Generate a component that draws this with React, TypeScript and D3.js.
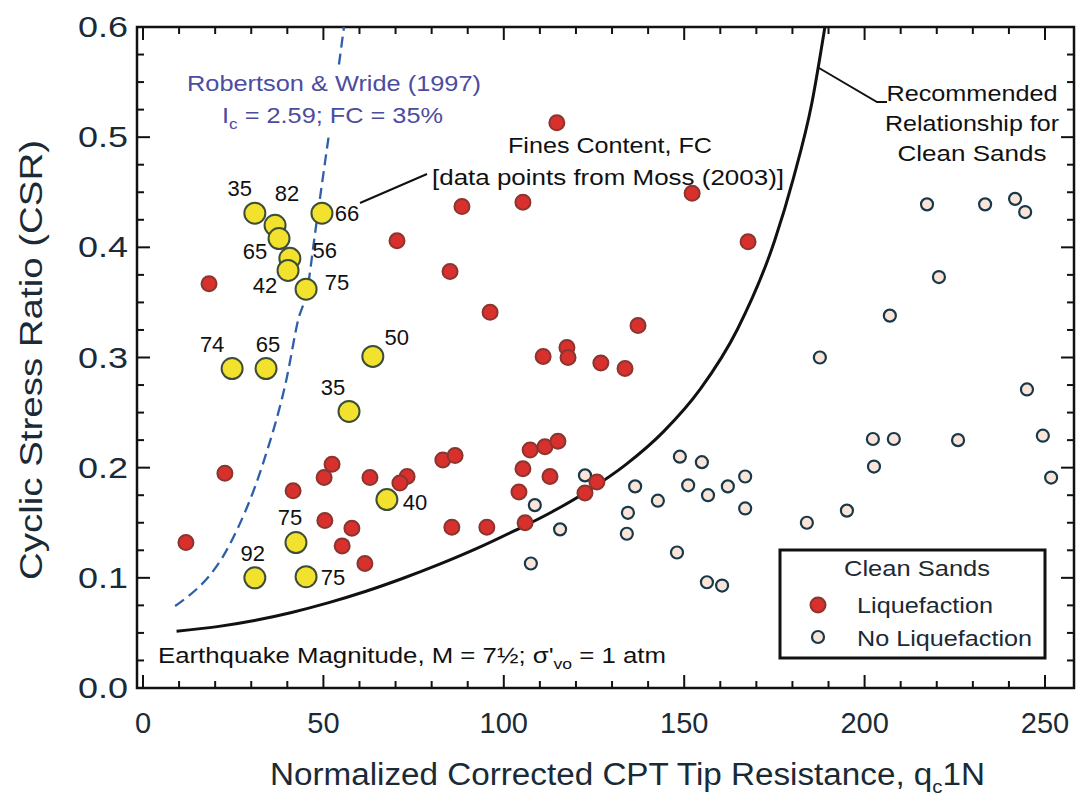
import React, { useEffect, useRef } from 'react';
import * as d3 from 'd3';

// Clean sand case histories, liquefaction: [qc1N, CSR]
const liqQ = [11.9, 18.3, 22.7, 41.6, 52.4, 50.2, 62.9, 73.2, 71.2, 50.4, 57.9, 55.2, 61.5, 70.4, 88.4, 105.3, 85.1, 96.2, 114.7, 152.2, 167.7, 137.2, 110.9, 117.5, 117.8, 126.9, 133.6, 83.1, 86.5, 85.6, 95.3, 105.9, 107.3, 111.4, 115.0, 105.3, 112.8, 104.2, 122.5, 125.8];
const liqCSR = [0.132, 0.367, 0.195, 0.179, 0.203, 0.191, 0.191, 0.192, 0.186, 0.152, 0.145, 0.129, 0.113, 0.406, 0.437, 0.441, 0.378, 0.341, 0.513, 0.449, 0.405, 0.329, 0.301, 0.309, 0.300, 0.295, 0.290, 0.207, 0.211, 0.146, 0.146, 0.150, 0.216, 0.219, 0.224, 0.199, 0.192, 0.178, 0.177, 0.187];

// Clean sand case histories, no liquefaction
const noLiqQ = [108.6, 122.5, 115.6, 107.5, 136.4, 142.7, 134.4, 134.1, 148.0, 148.8, 154.9, 151.1, 156.6, 162.1, 166.9, 166.9, 156.3, 160.5, 184.0, 195.1, 202.3, 208.1, 202.6, 225.9, 249.4, 251.7, 245.0, 187.6, 207.0, 220.6, 217.3, 233.4, 241.7, 244.5];
const noLiqCSR = [0.166, 0.193, 0.144, 0.113, 0.183, 0.170, 0.159, 0.140, 0.123, 0.210, 0.205, 0.184, 0.175, 0.183, 0.192, 0.163, 0.096, 0.093, 0.150, 0.161, 0.226, 0.226, 0.201, 0.225, 0.229, 0.191, 0.271, 0.300, 0.338, 0.373, 0.439, 0.439, 0.444, 0.432];

// Silty sand cases with fines content (%)
const fcQ = [31.0, 36.6, 37.7, 40.7, 40.2, 45.2, 49.6, 24.7, 34.1, 63.7, 57.1, 67.6, 42.4, 31.0, 45.2];
const fcCSR = [0.431, 0.420, 0.408, 0.390, 0.379, 0.362, 0.431, 0.290, 0.290, 0.301, 0.251, 0.171, 0.132, 0.100, 0.101];
const fcValue = [35, 82, 65, 56, 42, 75, 66, 74, 65, 50, 35, 40, 75, 92, 75];
// label placement (pixels, relative to marker)
const fcLabelDx = [-15, 12, -24, 35, -23, 31, 25, -20, 2, 24, -16, 28, -6, -2, 27];
const fcLabelDy = [-25, -32, 12, -8, 15, -7, 0, -25, -25, -19, -24, 2, -26, -25, 0];

// Recommended relationship for clean sands
const crrQ = [9.3, 20.6, 30.9, 41.2, 51.5, 61.8, 72.1, 82.4, 92.7, 103, 113.3, 123.6, 133.9, 144.2, 154.5, 164.8, 175.1, 180.3, 185.4, 189];
const crrCSR = [0.0515, 0.0557, 0.0613, 0.0686, 0.0775, 0.0878, 0.0996, 0.1126, 0.1269, 0.1428, 0.1598, 0.1796, 0.203, 0.2325, 0.2715, 0.3259, 0.4064, 0.4631, 0.5312, 0.6];

// Robertson & Wride (1997), Ic = 2.59
const rwQ = [8.9, 24.1, 33.3, 39.9, 43.0, 45.5, 47.7, 51.3, 54.6, 55.7];
const rwCSR = [0.0744, 0.1307, 0.2042, 0.2823, 0.334, 0.361, 0.413, 0.497, 0.573, 0.600];

const xTicks = [0, 50, 100, 150, 200, 250];
const yTicks = [0, 0.1, 0.2, 0.3, 0.4, 0.5, 0.6];

const W = 1087;
const H = 799;
const FONT = '"Liberation Sans", Arial, Helvetica, sans-serif';
const INK = '#1a2a36';

const App: React.FC = () => {
  const svgRef = useRef<SVGSVGElement>(null);

  useEffect(() => {
    if (!svgRef.current) return;
    const svg = d3.select(svgRef.current);
    svg.selectAll('*').remove();

    const frame = { left: 137, right: 1074, top: 27, bottom: 688 };
    const x = d3.scaleLinear().domain([0, 250]).range([143, 1045]);
    const y = d3.scaleLinear().domain([0, 0.6]).range([688, 27]);

    svg.append('rect').attr('width', W).attr('height', H).attr('fill', '#fff');

    const g = svg.append('g').attr('font-family', FONT);

    // ticks (inside the frame, all four sides)
    const ticks = g.append('g').attr('stroke', '#111').attr('stroke-width', 2);
    d3.range(0, 251, 10).forEach(v => {
      const len = v % 50 === 0 ? 13 : 7;
      ticks.append('line').attr('x1', x(v)).attr('x2', x(v)).attr('y1', frame.bottom).attr('y2', frame.bottom - len);
      ticks.append('line').attr('x1', x(v)).attr('x2', x(v)).attr('y1', frame.top).attr('y2', frame.top + len);
    });
    d3.range(0, 25).forEach(i => {
      const v = i * 0.025;
      const len = i % 4 === 0 ? 13 : 7;
      ticks.append('line').attr('x1', frame.left).attr('x2', frame.left + len).attr('y1', y(v)).attr('y2', y(v));
      ticks.append('line').attr('x1', frame.right).attr('x2', frame.right - len).attr('y1', y(v)).attr('y2', y(v));
    });

    g.append('rect')
      .attr('x', frame.left).attr('y', frame.top)
      .attr('width', frame.right - frame.left).attr('height', frame.bottom - frame.top)
      .attr('fill', 'none').attr('stroke', '#111').attr('stroke-width', 2.5);

    // tick labels
    g.append('g').selectAll('text').data(yTicks).join('text')
      .attr('x', 128).attr('y', d => y(d) + 10)
      .attr('text-anchor', 'end').attr('font-size', 29).attr('fill', INK)
      .attr('textLength', 50).attr('lengthAdjust', 'spacingAndGlyphs')
      .text(d => d.toFixed(1));
    g.append('g').selectAll('text').data(xTicks).join('text')
      .attr('x', d => x(d)).attr('y', 733)
      .attr('text-anchor', 'middle').attr('font-size', 29).attr('fill', INK)
      .text(d => String(d));

    // axis titles
    const xt = g.append('text').attr('x', 270).attr('y', 785)
      .attr('font-size', 31).attr('fill', INK)
      .attr('textLength', 715).attr('lengthAdjust', 'spacingAndGlyphs');
    xt.append('tspan').text('Normalized Corrected CPT Tip Resistance, q');
    xt.append('tspan').attr('dy', 8).attr('font-size', 19).text('c');
    xt.append('tspan').attr('dy', -8).text('1N');

    g.append('text')
      .attr('transform', 'translate(42,360) rotate(-90)')
      .attr('text-anchor', 'middle').attr('font-size', 32).attr('fill', INK)
      .attr('textLength', 440).attr('lengthAdjust', 'spacingAndGlyphs')
      .text('Cyclic Stress Ratio (CSR)');

    // Robertson & Wride curve (dashed)
    const line = d3.line<[number, number]>().x(d => x(d[0])).y(d => y(d[1])).curve(d3.curveMonotoneX);
    g.append('path')
      .attr('d', line(rwQ.map((q, i) => [q, rwCSR[i]]) as [number, number][]))
      .attr('fill', 'none').attr('stroke', '#2f5fa8').attr('stroke-width', 2.3)
      .attr('stroke-dasharray', '11,6');

    // recommended clean sand curve
    g.append('path')
      .attr('d', line(crrQ.map((q, i) => [q, crrCSR[i]]) as [number, number][]))
      .attr('fill', 'none').attr('stroke', '#111').attr('stroke-width', 3);

    // Robertson & Wride annotation (white background hides the dashed line)
    g.append('rect').attr('x', 185).attr('y', 66).attr('width', 300).attr('height', 66).attr('fill', '#fff');
    g.append('text').attr('x', 334).attr('y', 91).attr('text-anchor', 'middle')
      .attr('font-size', 22).attr('fill', '#4c4ca0')
      .attr('textLength', 294).attr('lengthAdjust', 'spacingAndGlyphs')
      .text('Robertson & Wride (1997)');
    const ic = g.append('text').attr('x', 222).attr('y', 123).attr('font-size', 22).attr('fill', '#4c4ca0')
      .attr('textLength', 221).attr('lengthAdjust', 'spacingAndGlyphs');
    ic.append('tspan').text('I');
    ic.append('tspan').attr('dy', 6).attr('font-size', 15).text('c');
    ic.append('tspan').attr('dy', -6).text(' = 2.59; FC = 35%');

    // Fines content annotation
    g.append('line').attr('x1', 360).attr('y1', 203).attr('x2', 427).attr('y2', 174)
      .attr('stroke', '#111').attr('stroke-width', 2);
    g.append('text').attr('x', 610).attr('y', 153).attr('text-anchor', 'middle')
      .attr('font-size', 22).attr('fill', '#111')
      .attr('textLength', 204).attr('lengthAdjust', 'spacingAndGlyphs')
      .text('Fines Content, FC');
    g.append('text').attr('x', 608).attr('y', 185).attr('text-anchor', 'middle')
      .attr('font-size', 22).attr('fill', '#111')
      .attr('textLength', 352).attr('lengthAdjust', 'spacingAndGlyphs')
      .text('[data points from Moss (2003)]');

    // Recommended relationship annotation
    g.append('polyline').attr('points', '819,68 877,102 887,102')
      .attr('fill', 'none').attr('stroke', '#111').attr('stroke-width', 2);
    [['Recommended', 101, 171], ['Relationship for', 131, 174], ['Clean Sands', 161, 149]].forEach(([t, yy, len]) => {
      g.append('text').attr('x', 972).attr('y', yy as number).attr('text-anchor', 'middle')
        .attr('font-size', 22).attr('fill', '#111')
        .attr('textLength', len as number).attr('lengthAdjust', 'spacingAndGlyphs')
        .text(t as string);
    });

    // earthquake magnitude note
    const eq = g.append('text').attr('x', 158).attr('y', 663).attr('font-size', 22).attr('fill', '#111')
      .attr('textLength', 508).attr('lengthAdjust', 'spacingAndGlyphs');
    eq.append('tspan').text('Earthquake Magnitude, M = 7½; σ\'');
    eq.append('tspan').attr('dy', 6).attr('font-size', 15).text('vo');
    eq.append('tspan').attr('dy', -6).text(' = 1 atm');

    // markers
    g.append('g').selectAll('circle').data(noLiqQ.map((q, i) => [q, noLiqCSR[i]])).join('circle')
      .attr('cx', d => x(d[0])).attr('cy', d => y(d[1])).attr('r', 6)
      .attr('fill', '#fbe4d8').attr('stroke', '#17384a').attr('stroke-width', 2.2);

    g.append('g').selectAll('circle').data(liqQ.map((q, i) => [q, liqCSR[i]])).join('circle')
      .attr('cx', d => x(d[0])).attr('cy', d => y(d[1])).attr('r', 7.5)
      .attr('fill', '#d8302c').attr('stroke', '#8a3530').attr('stroke-width', 2);

    const fc = g.append('g');
    fcQ.forEach((q, i) => {
      fc.append('circle').attr('cx', x(q)).attr('cy', y(fcCSR[i])).attr('r', 10.5)
        .attr('fill', '#f2e22e').attr('stroke', '#3d4d3a').attr('stroke-width', 2);
    });
    fcQ.forEach((q, i) => {
      fc.append('text').attr('x', x(q) + fcLabelDx[i]).attr('y', y(fcCSR[i]) + fcLabelDy[i] + 8)
        .attr('text-anchor', 'middle').attr('font-size', 22).attr('fill', '#111')
        .text(String(fcValue[i]));
    });

    // legend
    const lg = g.append('g');
    lg.append('rect').attr('x', 780).attr('y', 550).attr('width', 265).attr('height', 108)
      .attr('fill', '#fff').attr('stroke', '#111').attr('stroke-width', 3);
    lg.append('text').attr('x', 917).attr('y', 576).attr('text-anchor', 'middle')
      .attr('font-size', 22).attr('fill', INK)
      .attr('textLength', 146).attr('lengthAdjust', 'spacingAndGlyphs').text('Clean Sands');
    lg.append('circle').attr('cx', 818).attr('cy', 605).attr('r', 7.5)
      .attr('fill', '#d8302c').attr('stroke', '#8a3530').attr('stroke-width', 2);
    lg.append('text').attr('x', 857).attr('y', 613).attr('font-size', 22).attr('fill', INK)
      .attr('textLength', 136).attr('lengthAdjust', 'spacingAndGlyphs').text('Liquefaction');
    lg.append('circle').attr('cx', 818).attr('cy', 637).attr('r', 6)
      .attr('fill', '#fbe4d8').attr('stroke', '#17384a').attr('stroke-width', 2.2);
    lg.append('text').attr('x', 857).attr('y', 646).attr('font-size', 22).attr('fill', INK)
      .attr('textLength', 175).attr('lengthAdjust', 'spacingAndGlyphs').text('No Liquefaction');
  }, []);

  return (
    <svg
      ref={svgRef}
      width={W}
      height={H}
      viewBox={`0 0 ${W} ${H}`}
      style={{ position: 'absolute', left: 0, top: 0, display: 'block' }}
    />
  );
};

export default App;
